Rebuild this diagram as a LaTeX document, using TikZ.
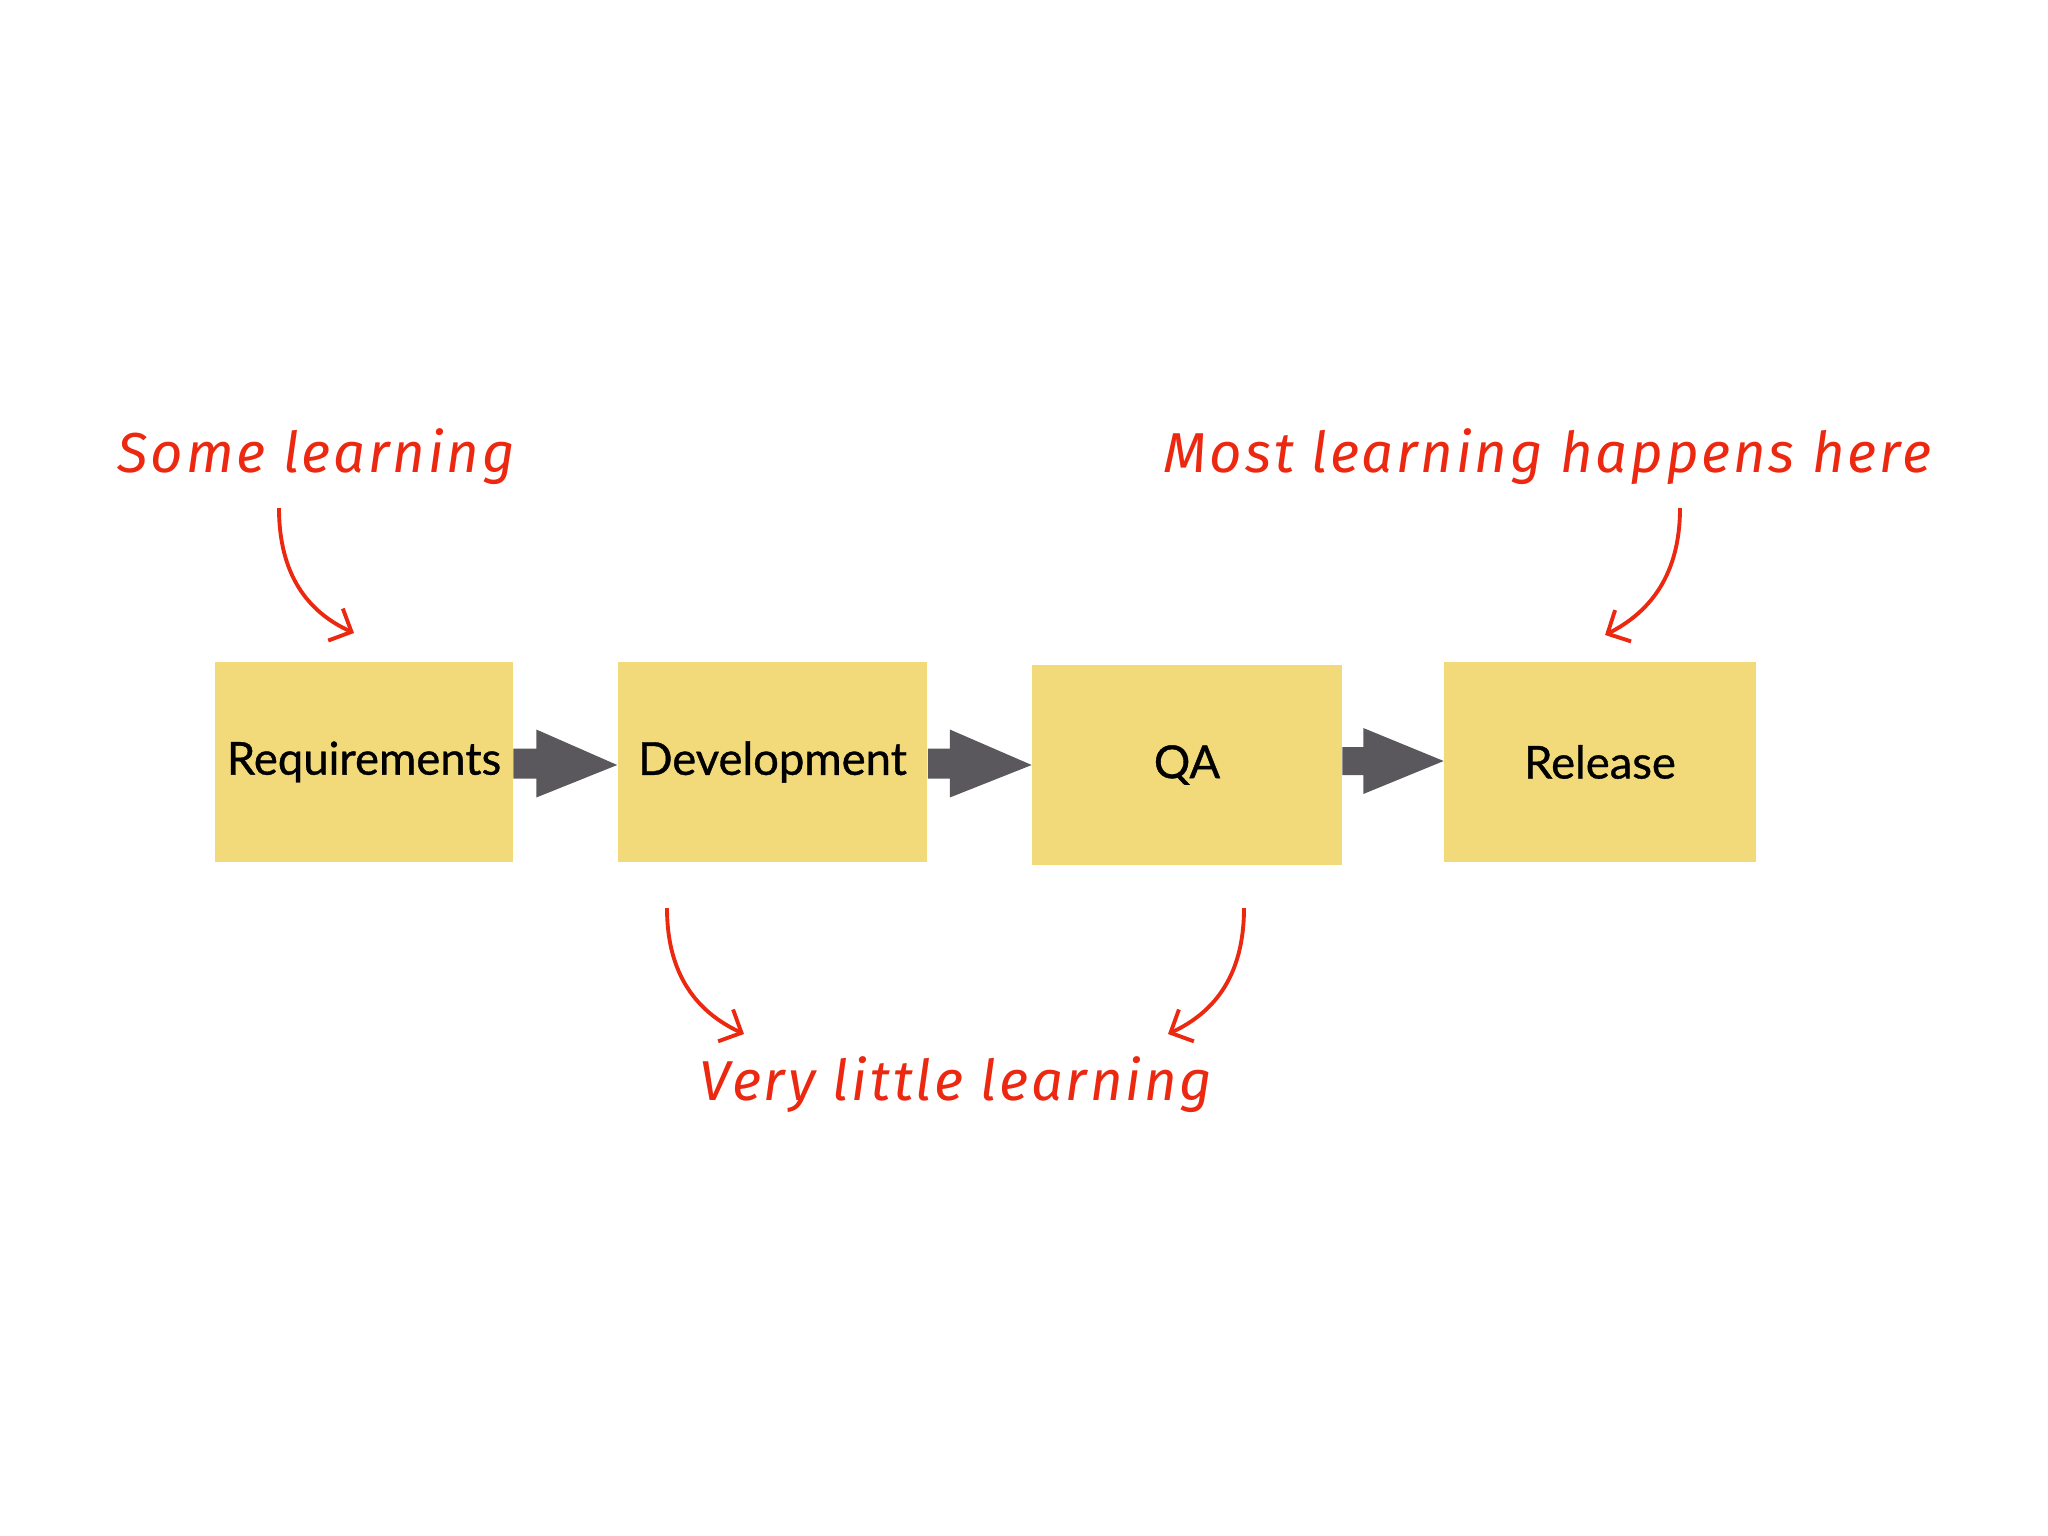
\documentclass[tikz,border=0pt]{standalone}
\usepackage{fontspec}
\setmainfont{Lato}
\newfontfamily\boxfont{Lato}[FakeBold=0.8]
\newfontfamily\handfont{Fira Sans}[LetterSpace=5]
\usetikzlibrary{arrows.meta,calc}
\definecolor{note}{RGB}{242,217,122}
\definecolor{flowgray}{RGB}{90,88,92}
\definecolor{pen}{RGB}{236,40,16}
\begin{document}
\begin{tikzpicture}[x=0.01cm,y=-0.01cm,
  box/.style={fill=note, inner sep=0, minimum height=2cm, font=\boxfont\fontsize{12.9}{15}\selectfont},
  hand/.style={text=pen, font=\handfont\itshape\fontsize{16}{19}\selectfont, inner sep=0, anchor=base west},
  penarrow/.style={draw=pen, line width=1.1pt, -{Straight Barb[length=5pt,width=10pt]}},
  flow/.style={fill=flowgray}]
\useasboundingbox (0,0) rectangle (2048,1536);
\fill[white] (0,0) rectangle (2048,1536);

% boxes
\node[box, minimum width=2.97cm] (req) at (364,762) {Requirements};
\node[box, minimum width=3.09cm] (dev) at (772.5,762) {Development};
\node[box, minimum width=3.09cm] (qa) at (1187,765) {QA};
\node[box, minimum width=3.11cm] (rel) at (1600,762) {Release};

% flow arrows
\fill[flow] ($(req.east)+(0,-13.5)$) -- ($(req.east)+(23,-13.5)$) -- ($(req.east)+(23,-32.5)$)
  -- ($(dev.west)+(0,3)$) -- ($(req.east)+(23,35.5)$) -- ($(req.east)+(23,16.5)$) -- ($(req.east)+(0,16.5)$) -- cycle;
\fill[flow] ($(dev.east)+(0,-13.5)$) -- ($(dev.east)+(22,-13.5)$) -- ($(dev.east)+(22,-32.5)$)
  -- ($(qa.west)+(0,0)$) -- ($(dev.east)+(22,35.5)$) -- ($(dev.east)+(22,16.5)$) -- ($(dev.east)+(0,16.5)$) -- cycle;
\fill[flow] ($(qa.east)+(0,-18)$) -- ($(qa.east)+(21,-18)$) -- ($(qa.east)+(21,-37)$)
  -- ($(rel.west)+(0,-1)$) -- ($(qa.east)+(21,29)$) -- ($(qa.east)+(21,10)$) -- ($(qa.east)+(0,10)$) -- cycle;

% handwritten notes
\node[hand] (some) at (117,472) {Some learning};
\node[hand] (most) at (1163,472) {Most learning happens here};
\node[hand] (little) at (699,1100) {Very little learning};

\coordinate (s1) at (279,508);
\coordinate (t1) at (354,633);
\coordinate (s2) at (1680,508);
\coordinate (t2) at (1605,635);
\coordinate (s3) at (667,908);
\coordinate (t3) at (744,1034);
\coordinate (s4) at (1244,908);
\coordinate (t4) at (1168,1034);

\draw[penarrow] (s1) .. controls (279,575) and (308,612) .. (t1);
\draw[penarrow] (s2) .. controls (1680,575) and (1650,612) .. (t2);
\draw[penarrow] (s3) .. controls (667,975) and (697,1012) .. (t3);
\draw[penarrow] (s4) .. controls (1244,975) and (1215,1012) .. (t4);
\end{tikzpicture}
\end{document}
